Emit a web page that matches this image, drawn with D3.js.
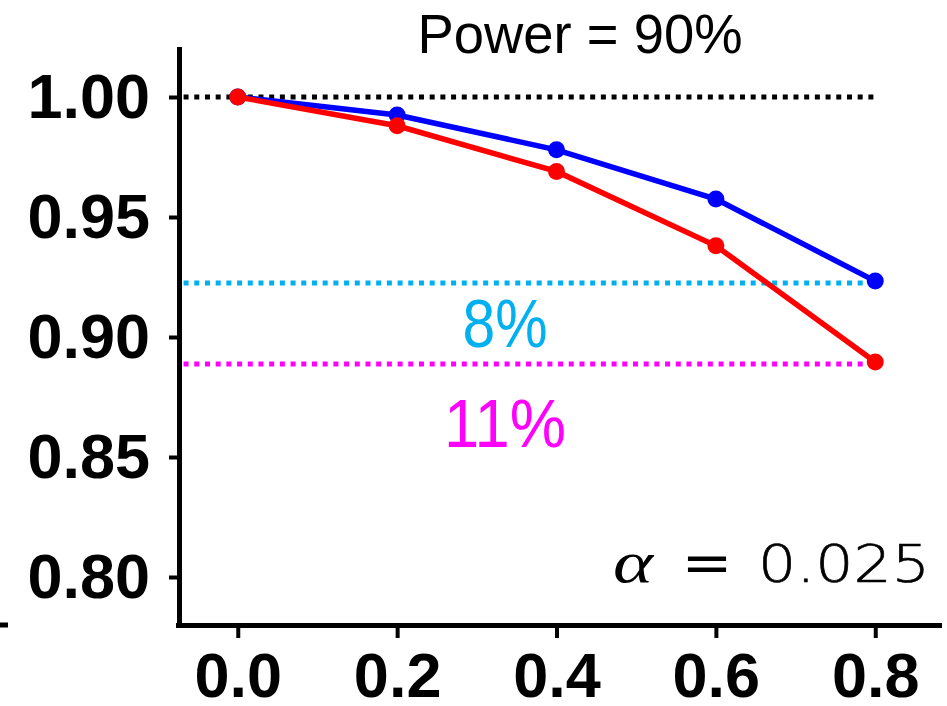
<!DOCTYPE html>
<html>
<head>
<meta charset="utf-8">
<script src="https://cdn.jsdelivr.net/npm/d3@7"></script>
<style>
  body { margin: 0; background: #fff; }
  svg { display: block; }
</style>
</head>
<body>
<div id="chart"></div>
<script>
const width = 947,
  height = 706;

// data
const xValues = [0.0, 0.2, 0.4, 0.6, 0.8];
const blueValues = [1.0, 0.9925, 0.978, 0.9575, 0.9233];
const redValues = [1.0, 0.988, 0.969, 0.938, 0.8896];
const yTicks = [0.8, 0.85, 0.9, 0.95, 1.0];
const xTicks = [0.0, 0.2, 0.4, 0.6, 0.8];
const refValues = [1.0, 0.9225, 0.8888];
const refColors = ["#000000", "#00B0F0", "#FF00FF"];
const labels = ["8%", "11%"];
const labelValues = [0.8958, 0.8542];
const labelColors = ["#00B0F0", "#FF00FF"];

const x = d3.scaleLinear().domain([-0.075, 0.88]).range([178, 939]);
const y = d3.scaleLinear().domain([0.78, 1.02]).range([625, 49]);

const svg = d3
  .select("#chart")
  .append("svg")
  .attr("width", width)
  .attr("height", height);

// stray tick from the neighbouring panel
svg
  .append("line")
  .attr("x1", 0)
  .attr("x2", 8)
  .attr("y1", y(0.78))
  .attr("y2", y(0.78))
  .attr("stroke", "#000")
  .attr("stroke-width", 5);

// dotted reference lines
svg
  .append("g")
  .selectAll("line")
  .data(refValues)
  .join("line")
  .attr("x1", x(-0.068))
  .attr("x2", x(0.8))
  .attr("y1", (d) => y(d))
  .attr("y2", (d) => y(d))
  .attr("stroke", (d, i) => refColors[i])
  .attr("stroke-width", 5)
  .attr("stroke-dasharray", "5,5.7");

// axes
const yAxis = svg
  .append("g")
  .attr("transform", "translate(179,0)")
  .call(
    d3
      .axisLeft(y)
      .tickValues(yTicks)
      .tickFormat(d3.format(".2f"))
      .tickSize(10)
      .tickSizeOuter(0)
      .tickPadding(19)
  );

const xAxis = svg
  .append("g")
  .attr("transform", `translate(0,${y(0.78)})`)
  .call(
    d3
      .axisBottom(x)
      .tickValues(xTicks)
      .tickFormat(d3.format(".1f"))
      .tickSize(13)
      .tickSizeOuter(0)
      .tickPadding(14)
  );

for (const ax of [xAxis, yAxis]) {
  ax.select(".domain").attr("stroke-width", 5).attr("stroke-linecap", "square");
  ax.selectAll(".tick line").attr("stroke-width", 4);
  ax.selectAll(".tick text")
    .attr("fill", "#000")
    .style("font-family", "'Liberation Sans', Arial, sans-serif")
    .style("font-weight", "bold")
    .style("font-size", "63px");
}

// series
const line = d3
  .line()
  .x((d, i) => x(xValues[i]))
  .y((d) => y(d));

const series = [
  { values: blueValues, color: "#0000FF" },
  { values: redValues, color: "#FF0000" },
];

for (const s of series) {
  svg
    .append("path")
    .datum(s.values)
    .attr("fill", "none")
    .attr("stroke", s.color)
    .attr("stroke-width", 5.5)
    .attr("d", line);
  svg
    .append("g")
    .selectAll("circle")
    .data(s.values)
    .join("circle")
    .attr("cx", (d, i) => x(xValues[i]))
    .attr("cy", (d) => y(d))
    .attr("r", 8.5)
    .attr("fill", s.color);
}

// texts
svg
  .append("text")
  .attr("x", 580)
  .attr("y", 53)
  .attr("text-anchor", "middle")
  .attr("textLength", 325)
  .attr("lengthAdjust", "spacingAndGlyphs")
  .style("font-family", "'Liberation Sans', Arial, sans-serif")
  .style("font-size", "56px")
  .text("Power = 90%");

const labelWidths = [85, 122];
svg
  .append("g")
  .selectAll("text")
  .data(labels)
  .join("text")
  .attr("x", 505)
  .attr("y", (d, i) => y(labelValues[i]))
  .attr("text-anchor", "middle")
  .attr("textLength", (d, i) => labelWidths[i])
  .attr("lengthAdjust", "spacingAndGlyphs")
  .attr("fill", (d, i) => labelColors[i])
  .style("font-family", "'Liberation Sans', Arial, sans-serif")
  .style("font-size", "68px")
  .text((d) => d);

// alpha = 0.025
svg
  .append("text")
  .attr("x", 613)
  .attr("y", 582)
  .attr("textLength", 40)
  .attr("lengthAdjust", "spacingAndGlyphs")
  .style("font-family", "'Liberation Serif', serif")
  .style("font-style", "italic")
  .style("font-size", "60px")
  .text("α");
svg
  .append("text")
  .attr("x", 707)
  .attr("y", 582)
  .attr("text-anchor", "middle")
  .attr("textLength", 51)
  .attr("lengthAdjust", "spacingAndGlyphs")
  .style("font-family", "'DejaVu Sans', sans-serif")
  .style("font-size", "56px")
  .text("=");
svg
  .append("text")
  .attr("x", 844)
  .attr("y", 582)
  .attr("text-anchor", "middle")
  .attr("textLength", 172)
  .attr("lengthAdjust", "spacingAndGlyphs")
  .style("font-family", "'DejaVu Sans', sans-serif")
  .style("font-weight", "200")
  .style("font-size", "51px")
  .style("stroke", "#000")
  .style("stroke-width", "0.6px")
  .text("0.025");
</script>
</body>
</html>
